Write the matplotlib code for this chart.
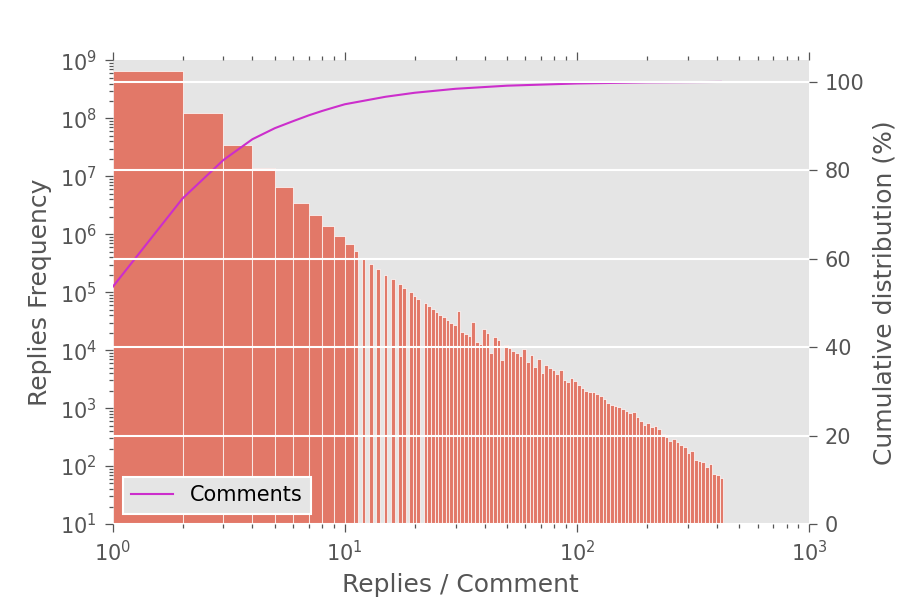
import numpy as np
import matplotlib
matplotlib.use("Agg")
import matplotlib.pyplot as plt

# ---------------- data ----------------
# bar heights (replies frequency), one per visible bar, left to right
bar_heights = [
    6.67e8, 1.26e8, 3.47e7, 1.38e7, 6.47e6, 3.5e6, 2.13e6, 1.37e6, 9.5e5, 6.8e5,
    5.1e5, 3.94e5, 3.07e5, 2.49e5, 2.01e5, 1.67e5, 1.39e5, 1.18e5, 1.01e5, 8.7e4,
    7.6e4, 6.6e4, 5.8e4, 5.2e4, 4.6e4, 4.1e4, 3.7e4,
    3.3e4, 3.0e4, 2.72e4, 4.8e4, 2.06e4, 1.90e4, 1.76e4, 3.1e4, 1.37e4, 1.29e4,
    2.3e4, 2.0e4, 9.06e3, 1.67e4, 1.48e4, 6.8e3, 1.23e4, 1.09e4, 9.8e3, 8.8e3,
    8.0e3, 1.06e4, 6.2e3, 8.3e3, 5.1e3, 7.0e3, 4.1e3, 5.5e3, 4.9e3, 4.5e3,
    3.9e3, 4.6e3, 3.05e3, 2.8e3, 3.3e3, 2.9e3, 2.5e3, 2.2e3, 1.98e3, 1.9e3,
    1.92e3, 1.73e3, 1.62e3, 1.44e3, 1.22e3, 1.15e3, 1.10e3, 1.05e3, 9.8e2, 8.9e2,
    815, 848, 711, 607, 518, 547, 470, 491, 436, 357, 313, 274, 297, 264, 231, 211,
    168, 182, 126, 124, 117, 96, 107, 72, 71, 62,
]

# cumulative distribution of comments (%)
cum_x = [1, 2, 3, 4, 5, 6, 7, 8, 9, 10, 15, 20, 30, 50, 100, 200, 417]
cum_pct = [53.6, 73.6, 82.3, 87.0, 89.5, 91.1, 92.4, 93.4, 94.2, 94.9,
           96.6, 97.5, 98.4, 99.1, 99.6, 99.85, 99.95]

# ---------------- bins ----------------
int_edges = np.arange(1, 12)                          # unit bins up to 11
log_edges = 11 * 10 ** (np.arange(1, 115) * 0.01573)  # log bins beyond
edges = np.concatenate([int_edges, log_edges])
lefts, rights = edges[:-1], edges[1:]
nonempty = np.ceil(lefts - 1e-9) < rights
sel = np.where(nonempty)[0][:len(bar_heights)]

# ---------------- style ----------------
plt.rcParams['font.family'] = ['DejaVu Sans']
grey = '#555555'
fig = plt.figure(figsize=(6, 4), dpi=150)
ax = fig.add_axes([0.1252, 0.1267, 0.8989 - 0.1252, 0.8992 - 0.1267])
ax.set_facecolor('#E5E5E5')
for s in ax.spines.values():
    s.set_visible(False)

ax.bar(lefts[sel], bar_heights, width=(rights - lefts)[sel], align='edge',
       color='#E24A33', alpha=0.7, edgecolor='white', linewidth=0.5)
ax.set_xscale('log')
ax.set_yscale('log')
ax.set_xlim(1, 1000)
ax.set_ylim(10, 1e9)
ax.set_xlabel('Replies / Comment', fontsize=12, color=grey)
ax.set_ylabel('Replies Frequency', fontsize=12, color=grey)
ax.tick_params(axis='both', which='both', direction='out', colors=grey,
               labelsize=10, width=0.6)
ax.tick_params(axis='x', which='both', top=True)
ax.tick_params(axis='y', which='both', right=False)
ax.tick_params(which='major', length=4)
ax.tick_params(which='minor', length=2)
ax.grid(False)

ax2 = ax.twinx()
for s in ax2.spines.values():
    s.set_visible(False)
ax2.plot(cum_x, cum_pct, color='#CC2ECC', linewidth=1.0, label='Comments')
ax2.set_ylim(0, 104.8)
ax2.set_yticks([0, 20, 40, 60, 80, 100])
ax2.set_ylabel('Cumulative distribution (%)', fontsize=12, color=grey)
ax2.tick_params(axis='y', which='both', direction='out', colors=grey,
                labelsize=10, width=0.6, length=4)
ax2.yaxis.grid(True, color='white', linewidth=1.0)
ax2.xaxis.grid(False)
ax2.set_axisbelow(False)
leg = ax2.legend(loc='lower left', fontsize=10, fancybox=False)
leg.get_frame().set_facecolor('#E5E5E5')
leg.get_frame().set_edgecolor('white')
leg.get_frame().set_alpha(1.0)

fig.savefig('out.png', dpi=150)
